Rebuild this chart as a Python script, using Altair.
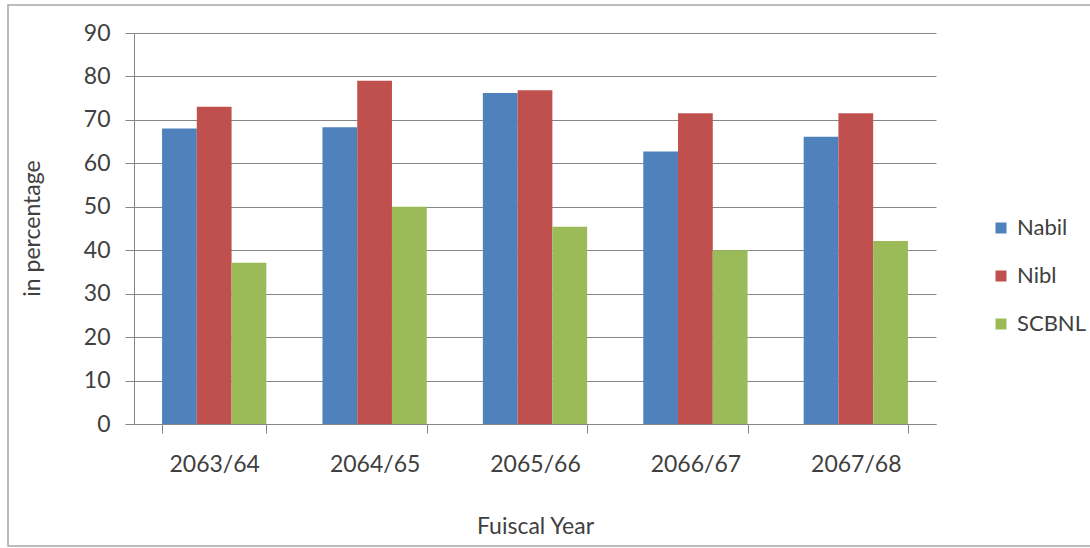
import altair as alt
import pandas as pd

# Fiscal years and bank series (percent)
years = ["2063/64", "2064/65", "2065/66", "2066/67", "2067/68"]
banks = ["Nabil", "Nibl", "SCBNL"]
nabil = [68.0, 68.3, 76.2, 62.7, 66.1]
nibl = [73.0, 79.0, 76.8, 71.5, 71.5]
scbnl = [37.1, 50.0, 45.4, 40.0, 42.1]
y_ticks = [0, 10, 20, 30, 40, 50, 60, 70, 80, 90]
colors = ["#4F81BD", "#C0504D", "#9BBB59"]

rows = []
for bank, series in zip(banks, [nabil, nibl, scbnl]):
    for yr, v in zip(years, series):
        rows.append({"year": yr, "bank": bank, "value": v})
df = pd.DataFrame(rows)

FONT = "Lato"
TEXT = "#404040"
LINE = "#868686"
FS = 23

bars = alt.Chart(df).mark_bar().encode(
    x=alt.X(
        "year:N",
        sort=years,
        scale=alt.Scale(paddingInner=0.35, paddingOuter=0.175),
        axis=alt.Axis(
            title="Fuiscal Year",
            labelAngle=0,
            tickBand="extent",
            tickSize=9,
            tickColor=LINE,
            domainColor=LINE,
            labelPadding=20,
            labelFontSize=FS,
            labelColor=TEXT,
            labelFont=FONT,
            titleFont=FONT,
            titleFontSize=FS,
            titleFontWeight="normal",
            titleColor=TEXT,
            titleY=102,
            titleBaseline="middle",
            grid=False,
        ),
    ),
    xOffset=alt.XOffset("bank:N", sort=banks, scale=alt.Scale(paddingInner=0, paddingOuter=0)),
    y=alt.Y(
        "value:Q",
        scale=alt.Scale(domain=[0, 90], nice=False),
        axis=alt.Axis(
            title="in percentage",
            values=y_ticks,
            tickSize=9,
            tickColor=LINE,
            domainColor=LINE,
            gridColor=LINE,
            gridWidth=1,
            labelPadding=15,
            labelFontSize=FS,
            labelColor=TEXT,
            labelFont=FONT,
            titleFont=FONT,
            titleFontSize=FS,
            titleFontWeight="normal",
            titleColor=TEXT,
            titleX=-102,
            titleY=195,
            titleAngle=-90,
            titleAlign="center",
            titleBaseline="middle",
        ),
    ),
    color=alt.Color(
        "bank:N",
        sort=banks,
        scale=alt.Scale(domain=banks, range=colors),
        legend=alt.Legend(
            title=None,
            orient="none",
            legendX=856,
            legendY=184,
            symbolType="square",
            symbolSize=121,
            symbolStrokeWidth=0,
            labelFontSize=22,
            labelFont=FONT,
            labelColor=TEXT,
            labelOffset=5,
            rowPadding=26,
            padding=0,
        ),
    ),
)

# thin grey frame around the whole figure
frame = alt.Chart(pd.DataFrame({"k": [0]})).mark_rect(
    fill=None, stroke="#a6a6a6", strokeWidth=1.5
).encode(
    x=alt.value(-126), x2=alt.value(970), y=alt.value(-28), y2=alt.value(513)
)

chart = alt.layer(frame, bars).properties(
    width=802,
    height=391,
    autosize=alt.AutoSizeParams(type="none"),
    padding={"left": 134, "top": 33, "right": 154, "bottom": 124},
    background="white",
).configure_view(stroke=None)

chart.save("out.html", embed_options={"renderer": "svg", "actions": False})
